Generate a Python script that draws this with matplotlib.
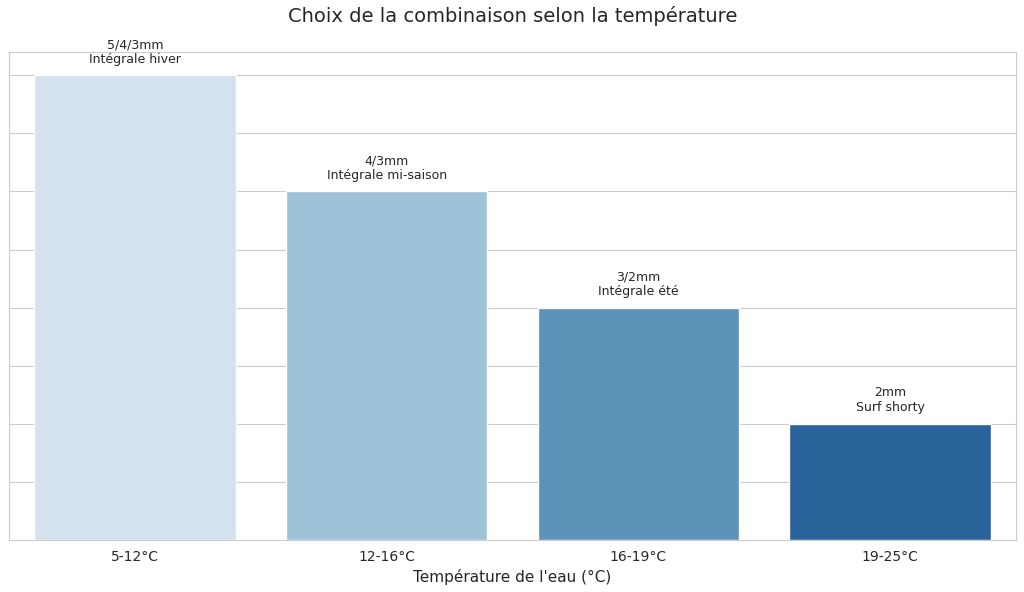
import matplotlib
matplotlib.use('Agg')
import matplotlib.pyplot as plt
import seaborn as sns

sns.set_style('whitegrid')

# data
temperatures = ['5-12°C', '12-16°C', '16-19°C', '19-25°C']
thickness_level = [4, 3, 2, 1]
labels = ['5/4/3mm\nIntégrale hiver', '4/3mm\nIntégrale mi-saison',
          '3/2mm\nIntégrale été', '2mm\nSurf shorty']
colors = ['#d4e2f0', '#9ec2d7', '#5c94b9', '#2a6399']

fig = plt.figure(figsize=(10.24, 5.92), dpi=100)
ax = fig.add_axes([0.009, 0.088, 0.983, 0.824])

x = range(len(temperatures))
ax.bar(x, thickness_level, width=0.8, color=colors)
for i, v in enumerate(thickness_level):
    ax.text(i, v + 0.08, labels[i], ha='center', va='bottom', fontsize=9)

ax.set_xticks(list(x))
ax.set_xticklabels(temperatures, fontsize=10)
ax.set_xlim(-0.5, 3.5)
ax.set_ylim(0, 4.2)
ax.set_yticks([0.5 * k for k in range(9)])
ax.set_yticklabels([])
ax.tick_params(axis='y', length=0)
ax.set_xlabel("Température de l'eau (°C)", fontsize=11)
ax.set_title('Choix de la combinaison selon la température', fontsize=14, pad=22)
ax.grid(axis='x', visible=False)

plt.savefig('out.png', dpi=100)
